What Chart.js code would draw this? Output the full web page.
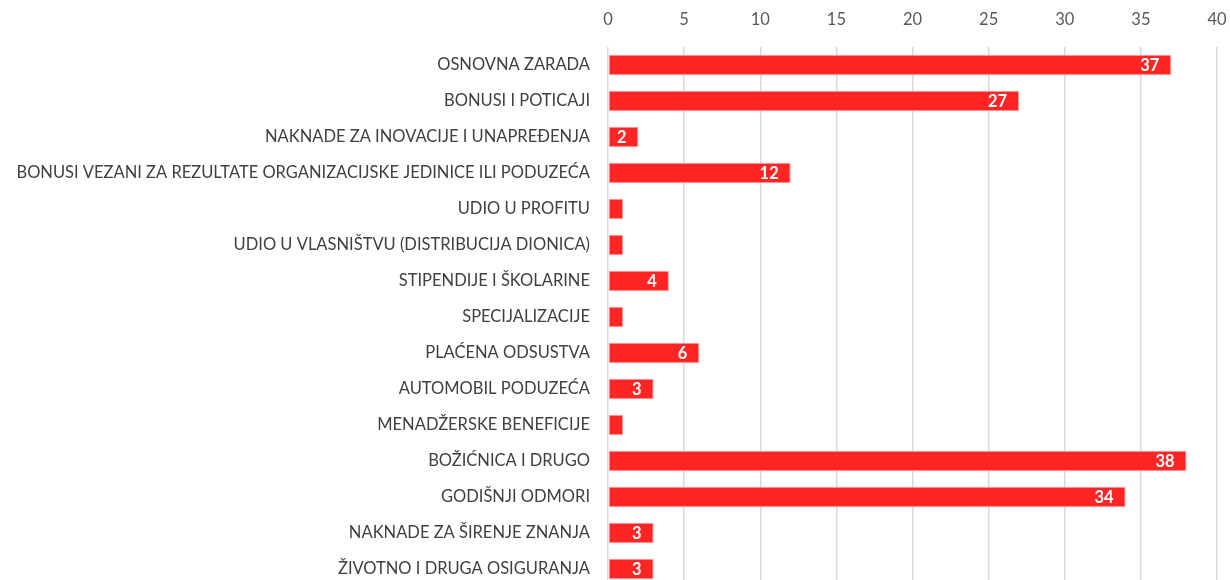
<!DOCTYPE html>
<html>
<head>
<meta charset="utf-8">
<script src="https://cdn.jsdelivr.net/npm/chart.js@4"></script>
<style>
  html, body { margin: 0; padding: 0; background: #fff; overflow: hidden; }
  canvas { display: block; }
</style>
</head>
<body>
<canvas id="chart" width="1230" height="590"></canvas>
<script>
const categories = [
    'OSNOVNA ZARADA',
    'BONUSI I POTICAJI',
    'NAKNADE ZA INOVACIJE I UNAPREĐENJA',
    'BONUSI VEZANI ZA REZULTATE ORGANIZACIJSKE JEDINICE ILI PODUZEĆA',
    'UDIO U PROFITU',
    'UDIO U VLASNIŠTVU (DISTRIBUCIJA DIONICA)',
    'STIPENDIJE I ŠKOLARINE',
    'SPECIJALIZACIJE',
    'PLAĆENA ODSUSTVA',
    'AUTOMOBIL PODUZEĆA',
    'MENADŽERSKE BENEFICIJE',
    'BOŽIĆNICA I DRUGO',
    'GODIŠNJI ODMORI',
    'NAKNADE ZA ŠIRENJE ZNANJA',
    'ŽIVOTNO I DRUGA OSIGURANJA'
];
const values = [37, 27, 2, 12, 1, 1, 4, 1, 6, 3, 1, 38, 34, 3, 3];
const axisMin = 0;
const axisMax = 40;
const axisStep = 5;

const FONT = 'Lato, "Open Sans", sans-serif';

// draws the white value labels inside the bar ends (values of 1 are left out)
const barLabels = {
    id: 'barLabels',
    afterDatasetsDraw(chart) {
        const ctx = chart.ctx;
        const meta = chart.getDatasetMeta(0);
        ctx.save();
        ctx.fillStyle = '#ffffff';
        ctx.font = 'bold 16.5px ' + FONT;
        ctx.textAlign = 'right';
        ctx.textBaseline = 'middle';
        meta.data.forEach((bar, i) => {
            const v = values[i];
            if (v < 2) return;
            ctx.fillText(String(v), bar.x - 12, bar.y + 1);
        });
        ctx.restore();
    }
};

new Chart(document.getElementById('chart'), {
    type: 'bar',
    data: {
        labels: categories,
        datasets: [{
            data: values,
            backgroundColor: '#FF2525',
            borderColor: '#FF9A9A',
            borderWidth: 1,
            borderSkipped: false,
            barPercentage: 0.57,
            categoryPercentage: 1
        }]
    },
    options: {
        indexAxis: 'y',
        responsive: false,
        animation: false,
        layout: { padding: { left: 0, right: 13, top: 0, bottom: 3 } },
        plugins: {
            legend: { display: false },
            tooltip: { enabled: false }
        },
        scales: {
            x: {
                position: 'top',
                min: axisMin,
                max: axisMax,
                ticks: {
                    stepSize: axisStep,
                    color: '#595959',
                    font: { family: FONT, size: 16.5 },
                    padding: 17
                },
                grid: {
                    color: '#D9D9D9',
                    lineWidth: 1.5,
                    drawTicks: false
                },
                border: { display: false },
                afterFit(scale) {
                    scale.height = 47;
                    scale.paddingLeft = 0;
                    scale.paddingRight = 0;
                }
            },
            y: {
                ticks: {
                    color: '#404040',
                    font: { family: FONT, size: 16.5 },
                    padding: 18
                },
                grid: { display: false, drawTicks: false },
                border: { display: false },
                afterFit(scale) {
                    scale.width = 608;
                    scale.paddingTop = 0;
                    scale.paddingBottom = 0;
                }
            }
        }
    },
    plugins: [barLabels]
});
</script>
</body>
</html>
